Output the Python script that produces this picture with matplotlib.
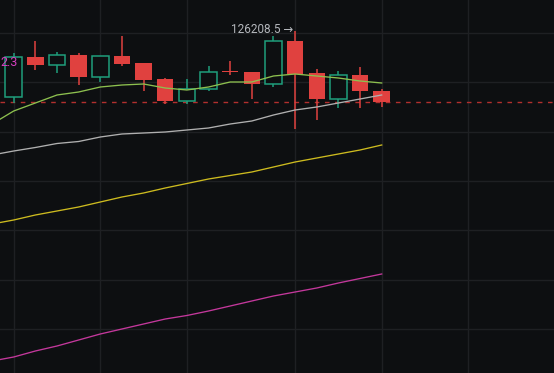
import matplotlib
matplotlib.use("Agg")
import matplotlib.pyplot as plt
import numpy as np

# Weekly candles (index 0 = first full candle)
opens = [119620, 123620, 122850, 123820, 121680, 123750, 123050, 121450, 119250,
         120420, 122250, 122180, 120920, 125280, 122080, 119420, 121850, 120280]
highs = [124020, 125250, 124150, 124020, 123720, 125750, 123050, 121520, 121420,
         122750, 123250, 122180, 125750, 126208.5, 122450, 122280, 122680, 120420]
lows = [119020, 122350, 122050, 120850, 121120, 122780, 120280, 118950, 118920,
        120280, 121850, 119450, 120680, 116450, 117350, 118520, 118520, 118620]
closes = [123620, 122850, 123850, 121680, 123720, 122980, 121350, 119250, 120420,
          122120, 122120, 120920, 125280, 121950, 119420, 121820, 120220, 119180]

# Moving averages, one value per candle starting one candle off-screen (-1)
ma_x = np.arange(-1, 18)
ma_short = [116950, 118250, 119050, 119850, 120150, 120650, 120850, 120950, 120550,
            120350, 120650, 121150, 121150, 121750, 121950, 121750, 121550, 121250, 121050]
ma_mid = [113850, 114250, 114600, 115000, 115200, 115650, 115950, 116050, 116150,
          116350, 116550, 116950, 117250, 117850, 118350, 118650, 119050, 119450, 119850]
ma_long = [106950, 107350, 107850, 108250, 108650, 109150, 109650, 110050, 110550,
           111000, 111450, 111800, 112150, 112650, 113150, 113550, 113950, 114350, 114850]
ma_200 = [93250, 93650, 94250, 94750, 95350, 95950, 96450, 96950, 97450, 97800,
          98250, 98750, 99250, 99750, 100150, 100550, 101050, 101500, 101950]

# month boundaries (candle index) and price grid levels
month_lines = [0, 4, 8, 13, 17, 21]
price_lines = 126050 - 4930 * np.arange(7)

bg = "#0d0f11"
grid_c = "#1e2023"
up_c = "#1f9e7c"
down_c = "#e0413f"

fig = plt.figure(figsize=(5.54, 3.73), dpi=100, facecolor=bg)
ax = fig.add_axes([0, 0, 1, 1])
ax.set_facecolor(bg)
ax.set_xlim(-0.633, 24.96)
ax.set_ylim(92050, 129350)
ax.axis("off")

for x in month_lines:
    ax.axvline(x, color=grid_c, lw=1.0, zorder=0)
for y in price_lines:
    ax.axhline(y, color=grid_c, lw=1.0, zorder=0)

# last price line
ax.axhline(closes[-1], color="#b2302e", lw=1.0, ls=(0, (3.3, 4.0)), zorder=1)

# Draw candles
w = 0.76
for i, (o, h, l, c) in enumerate(zip(opens, highs, lows, closes)):
    top, bot = max(o, c), min(o, c)
    if c >= o:
        ax.vlines(i, top, h, color=up_c, lw=1.1, zorder=2)
        ax.vlines(i, l, bot, color=up_c, lw=1.1, zorder=2)
        ax.bar(i, top - bot, bottom=bot, width=w, facecolor=bg,
               edgecolor=up_c, linewidth=1.1, zorder=3)
    else:
        ax.vlines(i, l, h, color=down_c, lw=1.1, zorder=2)
        ax.bar(i, max(top - bot, 60), bottom=bot, width=w, color=down_c,
               linewidth=0, zorder=3)

# Moving averages on top of the candles
ax.plot(ma_x, ma_short, color="#8dc04f", lw=0.95, zorder=4)
ax.plot(ma_x, ma_mid, color="#b0b0b0", lw=0.95, zorder=4)
ax.plot(ma_x, ma_long, color="#cdbb1f", lw=0.95, zorder=4)
ax.plot(ma_x, ma_200, color="#c4389c", lw=0.95, zorder=4)

# high / low labels
ax.text(12.9, highs[13] + 200, "126208.5 \u2192", color="#b4b7bc", fontsize=8.5,
        family=["Roboto", "DejaVu Sans"], ha="right", va="center", zorder=5)
ax.text(-0.62, 123100, "2.3", color="#d63fc0", fontsize=9,
        family=["Roboto", "DejaVu Sans"], ha="left", va="center", zorder=5)

fig.savefig("out.png", dpi=100, facecolor=bg)
